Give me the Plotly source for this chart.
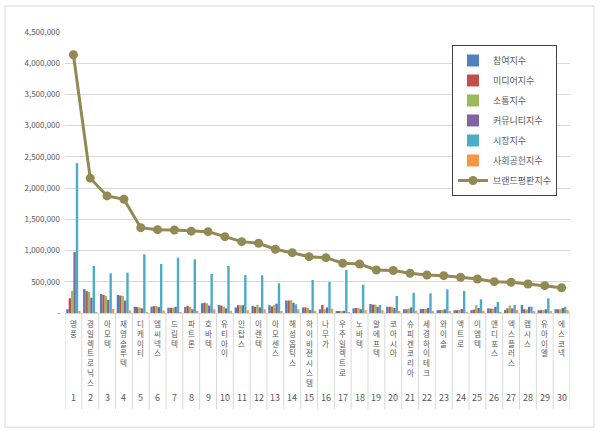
import plotly.graph_objects as go

companies = ["영풍", "경일렉트로닉스", "아모텍", "재영솔루텍", "디케이티", "엠씨넥스", "드림텍", "파트론",
             "호바텍", "유티아이", "인탑스", "이랜텍", "아모센스", "해성옵틱스", "하이비젼시스템", "나무가",
             "우주일렉트로", "노바텍", "알에프텍", "코아시아", "슈피겐코리아", "세경하이테크", "와이솔",
             "액트로", "이엠텍", "앤디포스", "엑스플러스", "캠시스", "유아이엘", "에스코넥"]
ranks = [str(i) for i in range(1, 31)]

participation = [60, 385, 305, 290, 100, 100, 85, 95, 155, 130, 90, 115, 125, 200, 90, 60, 20, 75, 145, 100,
                 60, 65, 45, 45, 45, 75, 50, 130, 45, 60]
media = [235, 350, 290, 280, 95, 110, 85, 115, 165, 120, 125, 100, 105, 200, 90, 130, 20, 80, 135, 100,
         60, 65, 45, 45, 55, 70, 75, 60, 45, 60]
communication = [355, 335, 275, 275, 90, 115, 85, 100, 155, 100, 125, 130, 125, 205, 80, 60, 25, 80, 135, 100,
                 70, 65, 50, 50, 125, 70, 120, 55, 45, 60]
community = [975, 245, 210, 200, 75, 95, 100, 60, 120, 75, 125, 90, 150, 165, 50, 90, 35, 60, 100, 80,
             90, 80, 60, 65, 80, 100, 75, 100, 60, 80]
market = [2400, 753, 636, 646, 940, 785, 886, 860, 625, 753, 609, 604, 476, 140, 529, 497, 689, 454, 128, 272,
          325, 316, 380, 353, 220, 176, 128, 100, 235, 100]
social = [20, 15, 65, 40, 15, 40, 15, 30, 60, 35, 45, 60, 25, 60, 35, 70, 10, 45, 45, 35,
          35, 25, 20, 15, 35, 15, 50, 25, 20, 45]
brand = [4135, 2159, 1875, 1822, 1367, 1335, 1330, 1311, 1303, 1223, 1143, 1117, 1021, 966, 902, 886, 796, 785,
         689, 680, 636, 609, 598, 572, 545, 502, 492, 465, 438, 405]

y_tickvals = [0, 500000, 1000000, 1500000, 2000000, 2500000, 3000000, 3500000, 4000000, 4500000]
y_ticktext = ["-", "500,000", "1,000,000", "1,500,000", "2,000,000", "2,500,000", "3,000,000",
              "3,500,000", "4,000,000", "4,500,000"]

series = [
    ("참여지수", participation, "#4F81BD"),
    ("미디어지수", media, "#C0504D"),
    ("소통지수", communication, "#9BBB59"),
    ("커뮤니티지수", community, "#8064A2"),
    ("시장지수", market, "#4BACC6"),
    ("사회공헌지수", social, "#F79646"),
]

FONT = "Noto Sans CJK KR"
GREY = "#595959"
xs = list(range(len(companies)))

fig = go.Figure()
for name, vals, col in series:
    fig.add_trace(go.Bar(x=xs, y=[v * 1000 for v in vals], name=name, marker_color=col,
                         marker_line_width=0, legendgroup=name))
fig.add_trace(go.Scatter(x=xs, y=[v * 1000 for v in brand], name="브랜드평판지수", mode="lines+markers",
                         line=dict(color="#938953", width=3), marker=dict(size=9, color="#938953"),
                         legendgroup="brand"))

# geometry helpers (pixels)
L, R, T, B = 65, 30, 32, 119.5
W = 600 - L - R
H = 433 - T - B
def py(p):
    return (433 - B - p) / H
def px(p):
    return (p - L) / W

annotations = []
shapes = []
for i, name in enumerate(companies):
    annotations.append(dict(x=i, y=0, xref="x", yref="paper", text="<br>".join(name), showarrow=False,
                            yanchor="top", xanchor="center", yshift=-4, borderpad=0,
                            font=dict(family=FONT, size=7.5, color=GREY)))
    annotations.append(dict(x=i, y=0, xref="x", yref="paper", text=ranks[i], showarrow=False,
                            yanchor="middle", xanchor="center", yshift=-84.5,
                            font=dict(family=FONT, size=9, color=GREY)))
for k in range(len(companies) + 1):
    shapes.append(dict(type="line", xref="x", yref="paper", x0=k - 0.5, x1=k - 0.5, y0=0, y1=py(410),
                       line=dict(color="#d9d9d9", width=1)))
shapes.append(dict(type="rect", xref="paper", yref="paper", x0=px(5), x1=px(594), y0=py(428), y1=py(6),
                   line=dict(color="#d9d9d9", width=1), layer="below"))

fig.update_layout(
    width=600, height=433,
    margin=dict(l=L, r=R, t=T, b=B),
    paper_bgcolor="white", plot_bgcolor="white",
    barmode="group", bargap=0.15, bargroupgap=0,
    font=dict(family=FONT, color=GREY, size=9),
    xaxis=dict(range=[-0.5, len(companies) - 0.5], showticklabels=False, showgrid=False,
               zeroline=False, showline=True, linecolor="#d9d9d9", linewidth=1, ticks=""),
    yaxis=dict(range=[0, 4500000], tickvals=y_tickvals, ticktext=y_ticktext, showgrid=True,
               gridcolor="#d9d9d9", gridwidth=1, zeroline=False, showline=False,
               tickfont=dict(family=FONT, size=8, color=GREY), ticks="", ticklabelstandoff=4),
    legend=dict(x=px(452), y=py(45), xanchor="left", yanchor="top", bgcolor="white",
                bordercolor="#404040", borderwidth=1, font=dict(family=FONT, size=9, color=GREY),
                tracegroupgap=1, itemwidth=30),
    annotations=annotations,
    shapes=shapes,
)

fig.write_html("out.html")
